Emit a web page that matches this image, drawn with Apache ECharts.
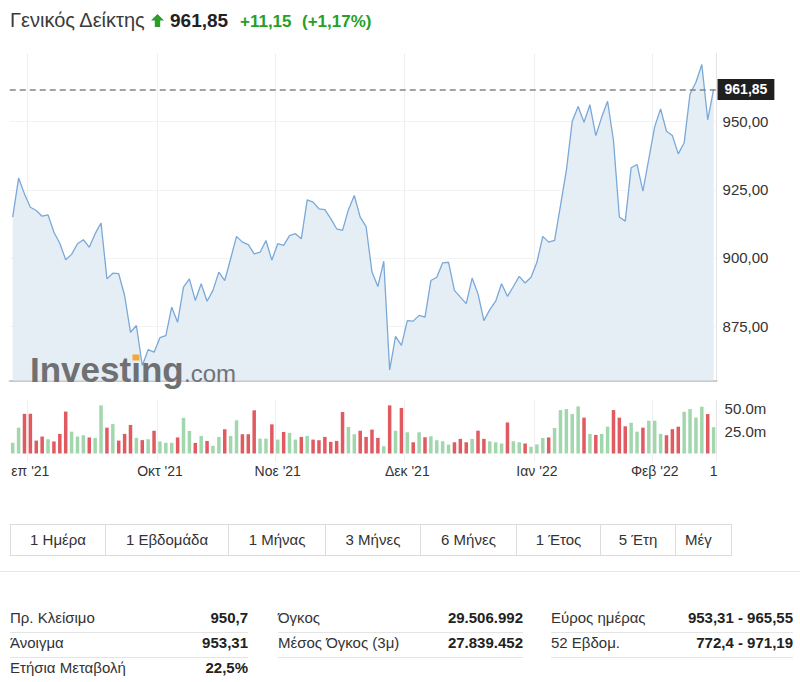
<!DOCTYPE html>
<html>
<head>
<meta charset="utf-8">
<script src="https://cdn.jsdelivr.net/npm/echarts@6/dist/echarts.min.js"></script>
<style>
  html, body { margin: 0; padding: 0; background: #fff; }
  body { width: 800px; height: 682px; position: relative; overflow: hidden;
         font-family: Arial, "Liberation Sans", sans-serif; color: #333; }
  .abs { position: absolute; white-space: nowrap; }
  #chart { position: absolute; left: 0; top: 0; width: 800px; height: 490px; }
  .btns { position: absolute; left: 10px; top: 524px; height: 32px; display: flex;
          border: 1px solid #dcdcdc; box-sizing: border-box; }
  .btns div { height: 30px; line-height: 30px; font-size: 15px; color: #333; text-align: center;
              border-right: 1px solid #dcdcdc; box-sizing: border-box; overflow: hidden; }
  .btns div:last-child { border-right: none; text-align: left; padding-left: 9px; }
  .cell { position: absolute; font-size: 15px; line-height: 20px; white-space: nowrap; }
  .lbl { color: #333; }
  .val { color: #222; font-weight: bold; text-align: right; }
  .rule { position: absolute; height: 1px; background: #e4e4e4; }
</style>
</head>
<body>
<div id="chart"></div>

<div class="abs" style="left:10px;top:10px;font-size:20px;line-height:20px;color:#3a3a3a;">Γενικός Δείκτης</div>
<svg class="abs" style="left:151px;top:14px;" width="13" height="14" viewBox="0 0 13 14">
  <polygon points="6.5,0 13,6.5 9.2,6.5 9.2,13 3.8,13 3.8,6.5 0,6.5" fill="#2a9d2a"/>
</svg>
<div class="abs" style="left:170px;top:11px;font-size:19px;line-height:19px;font-weight:bold;color:#222;">961,85</div>
<div class="abs" style="left:240px;top:13px;font-size:17px;line-height:17px;font-weight:bold;color:#26a026;">+11,15</div>
<div class="abs" style="left:302px;top:13px;font-size:17px;line-height:17px;font-weight:bold;color:#26a026;">(+1,17%)</div>

<div class="btns" id="btns"></div>
<div class="rule" style="left:0;top:571px;width:800px;background:#e6e6e6;"></div>
<div id="table"></div>

<script>
// ---------------- data ----------------
const closes = [
  915.0, 929.3, 923.5, 918.6, 917.4, 915.3, 915.8, 909.4, 905.4, 899.3,
  901.3, 905.2, 906.7, 903.9, 908.9, 912.8, 892.3, 894.4, 894.2, 886.2,
  872.7, 875.2, 860.5, 866.3, 865.4, 870.7, 871.5, 881.9, 876.4, 889.3,
  892.3, 884.4, 890.5, 884.1, 888.1, 894.8, 891.7, 899.7, 907.9, 905.8,
  904.9, 901.5, 902.1, 906.4, 899.2, 905.2, 904.6, 908.2, 908.9, 907.0,
  921.3, 920.5, 918.0, 917.7, 914.4, 910.7, 910.1, 917.7, 922.9, 915.0,
  911.5, 894.8, 889.5, 898.8, 858.9, 871.2, 867.9, 877.0, 876.8, 878.9,
  878.3, 891.7, 892.9, 898.2, 898.4, 888.1, 885.6, 883.2, 892.6, 886.8,
  877.0, 881.0, 884.1, 890.5, 885.9, 889.5, 893.2, 890.8, 892.9, 898.4,
  907.9, 905.8, 906.4, 919.2, 932.1, 950.2, 955.6, 949.8, 956.2, 944.9,
  951.7, 957.5, 943.1, 915.0, 913.5, 933.1, 934.3, 924.5, 936.4, 948.2,
  954.7, 946.5, 944.9, 938.2, 942.3, 960.2, 964.5, 971.0, 950.7, 961.85
];
// volume in millions
const volumes = [
  12, 29, 44.5, 44.5, 14.5, 19, 16, 13.5, 22, 47,
  24.5, 19, 20.5, 18, 17.5, 54, 29, 33, 14.5, 22,
  32, 17.5, 15, 16, 25.5, 13.5, 12, 12, 18, 40,
  25.3, 11.9, 19.7, 14.1, 8.6, 18.6, 27.2, 19.7, 37.2, 21.6,
  21.6, 48.4, 16.7, 16.7, 32.7, 15.6, 24.2, 23.1, 15.6, 18.6,
  19.7, 15.6, 14.9, 18.6, 13.0, 14.1, 46.5, 29.8, 21.6, 25.5,
  18.6, 26.8, 17.5, 8.2, 54, 25.5, 51, 23.8, 12.6, 23.8,
  18.2, 19.3, 14.9, 13.7, 10.0, 12.6, 16.4, 12.6, 16.4, 25.6,
  16.4, 13.7, 12.6, 11.2, 34.8, 13.7, 12.6, 11.2, 7.5, 10.2,
  17.5, 18, 28.6, 48.7, 49.8, 44.2, 52.8, 40.2, 22, 20.8,
  22, 30.1, 48.7, 40.2, 30.5, 34.5, 24.5, 29, 36.8, 36.8,
  22, 20.5, 27.3, 30.1, 46.8, 49.8, 40.3, 52.5, 44.2, 29.5
];
const lastPrice = 961.85;
const monthStartIdx = [3, 25, 45, 67, 89, 109];          // first trading day of each month
const xTickLabels = { 3: "επ '21", 25: "Οκτ '21", 45: "Νοε '21", 67: "Δεκ '21", 89: "Ιαν '22", 109: "Φεβ '22", 119: "1" };
const priceTicks = [875, 900, 925, 950];
const volumeTicks = [25, 50];
const buttons = ["1 Ημέρα", "1 Εβδομάδα", "1 Μήνας", "3 Μήνες", "6 Μήνες", "1 Έτος", "5 Έτη", "Μέγ"];
const statLabels = [
  ["Πρ. Κλείσιμο", "Άνοιγμα", "Ετήσια Μεταβολή"],
  ["Όγκος", "Μέσος Όγκος (3μ)"],
  ["Εύρος ημέρας", "52 Εβδομ."]
];
const statValues = [
  ["950,7", "953,31", "22,5%"],
  ["29.506.992", "27.839.452"],
  ["953,31 - 965,55", "772,4 - 971,19"]
];

// ---------------- HTML parts ----------------
const btnWidths = [95, 123, 97, 95, 96, 84, 75, 55];
const btns = document.getElementById('btns');
buttons.forEach((b, i) => {
  const d = document.createElement('div');
  d.style.width = btnWidths[i] + 'px';
  d.textContent = b;
  btns.appendChild(d);
});
const cols = [[10, 248], [278, 523], [551, 793]];
const rowTops = [608, 633, 658];
const table = document.getElementById('table');
statLabels.forEach((col, c) => {
  col.forEach((lab, r) => {
    const l = document.createElement('div');
    l.className = 'cell lbl';
    l.style.left = cols[c][0] + 'px'; l.style.top = rowTops[r] + 'px';
    l.textContent = lab; table.appendChild(l);
    const v = document.createElement('div');
    v.className = 'cell val';
    v.style.right = (800 - cols[c][1]) + 'px'; v.style.top = rowTops[r] + 'px';
    v.textContent = statValues[c][r]; table.appendChild(v);
    if (r < 2) {
      const ln = document.createElement('div');
      ln.className = 'rule';
      ln.style.left = cols[c][0] + 'px'; ln.style.width = (cols[c][1] - cols[c][0]) + 'px';
      ln.style.top = (rowTops[r] + 24) + 'px';
      table.appendChild(ln);
    }
  });
});

// ---------------- chart ----------------
const FONT = 'Arial, "Liberation Sans", sans-serif';
const cats = closes.map((_, i) => String(i));
const isMonth = (i) => monthStartIdx.indexOf(i) >= 0;
const barData = volumes.map((v, i) => ({
  value: v,
  itemStyle: { color: (i === 0 || closes[i] > closes[i - 1]) ? '#a2d7ae' : '#e05a5f' }
}));

const gridLeft = 9.75, gridRight = 83.45;
const chart = echarts.init(document.getElementById('chart'), null, { renderer: 'svg' });
chart.setOption({
  animation: false,
  textStyle: { fontFamily: FONT },
  grid: [
    { left: gridLeft, right: gridRight, top: 53.6, height: 326.9 },
    { left: gridLeft, right: gridRight, top: 400, height: 53.5 }
  ],
  xAxis: [
    {
      type: 'category', gridIndex: 0, data: cats, boundaryGap: true,
      axisLine: { show: true, lineStyle: { color: '#c9c9c9', width: 2 } },
      axisTick: { show: false }, axisLabel: { show: false },
      splitLine: { show: true, interval: (i) => isMonth(i), lineStyle: { color: '#efefef', width: 1 } }
    },
    {
      type: 'category', gridIndex: 1, data: cats, boundaryGap: true,
      axisLine: { show: false },
      axisTick: { show: true, interval: (i) => isMonth(i), length: 8, lineStyle: { color: '#efefef' } },
      axisLabel: {
        show: true, interval: (i) => xTickLabels[i] !== undefined,
        formatter: (v, i) => xTickLabels[i] || '',
        color: '#333', fontSize: 14, margin: 10, fontFamily: FONT
      },
      splitLine: { show: true, interval: (i) => isMonth(i), lineStyle: { color: '#efefef', width: 1 } }
    }
  ],
  yAxis: [
    {
      type: 'value', gridIndex: 0, position: 'right', min: 855, max: 975,
      axisLine: { show: true, lineStyle: { color: '#e3e3e3' } },
      axisTick: { show: false, customValues: priceTicks },
      axisLabel: {
        customValues: priceTicks, color: '#333', fontSize: 15, margin: 6, fontFamily: FONT,
        formatter: (v) => v.toFixed(2).replace('.', ',')
      },
      splitLine: { show: true, lineStyle: { color: '#f3f3f3' } }
    },
    {
      type: 'value', gridIndex: 1, position: 'right', min: 0, max: 60,
      axisLine: { show: true, lineStyle: { color: '#e3e3e3' } },
      axisTick: { show: false, customValues: volumeTicks },
      axisLabel: {
        customValues: volumeTicks, color: '#333', fontSize: 15, margin: 8, fontFamily: FONT,
        formatter: (v) => v.toFixed(1) + 'm'
      },
      splitLine: { show: false }
    }
  ],
  series: [
    {
      type: 'line', xAxisIndex: 0, yAxisIndex: 0, data: closes,
      symbol: 'none', smooth: false,
      lineStyle: { color: '#79a9d8', width: 1.3 },
      areaStyle: { color: '#e5edf5', opacity: 1, origin: 'start' },
      markLine: {
        silent: true, symbol: ['none', 'none'],
        lineStyle: { color: '#858585', type: [6, 4], width: 1.5 },
        label: {
          show: true, position: 'end', distance: 1,
          formatter: () => lastPrice.toFixed(2).replace('.', ','),
          backgroundColor: '#1f1f1f', color: '#fff', fontWeight: 'bold', fontSize: 14,
          fontFamily: FONT, padding: [4, 7, 3, 7], lineHeight: 14
        },
        data: [{ yAxis: lastPrice }]
      },
      z: 2
    },
    {
      type: 'bar', xAxisIndex: 1, yAxisIndex: 1, data: barData,
      barWidth: 3.5
    }
  ],
  graphic: [
    {
      type: 'text', x: 30, y: 369, z: 100,
      style: { text: 'Investing', font: 'bold 35px ' + FONT, fill: '#6f7072', textVerticalAlign: 'middle' }
    },
    {
      type: 'rect', z: 101, shape: { x: 132.5, y: 354.5, width: 7, height: 6 },
      style: { fill: '#f2a93b' }
    },
    {
      type: 'text', x: 184, y: 373, z: 100,
      style: { text: '.com', font: '24px ' + FONT, fill: '#727376', textVerticalAlign: 'middle' }
    }
  ]
});
</script>
</body>
</html>
